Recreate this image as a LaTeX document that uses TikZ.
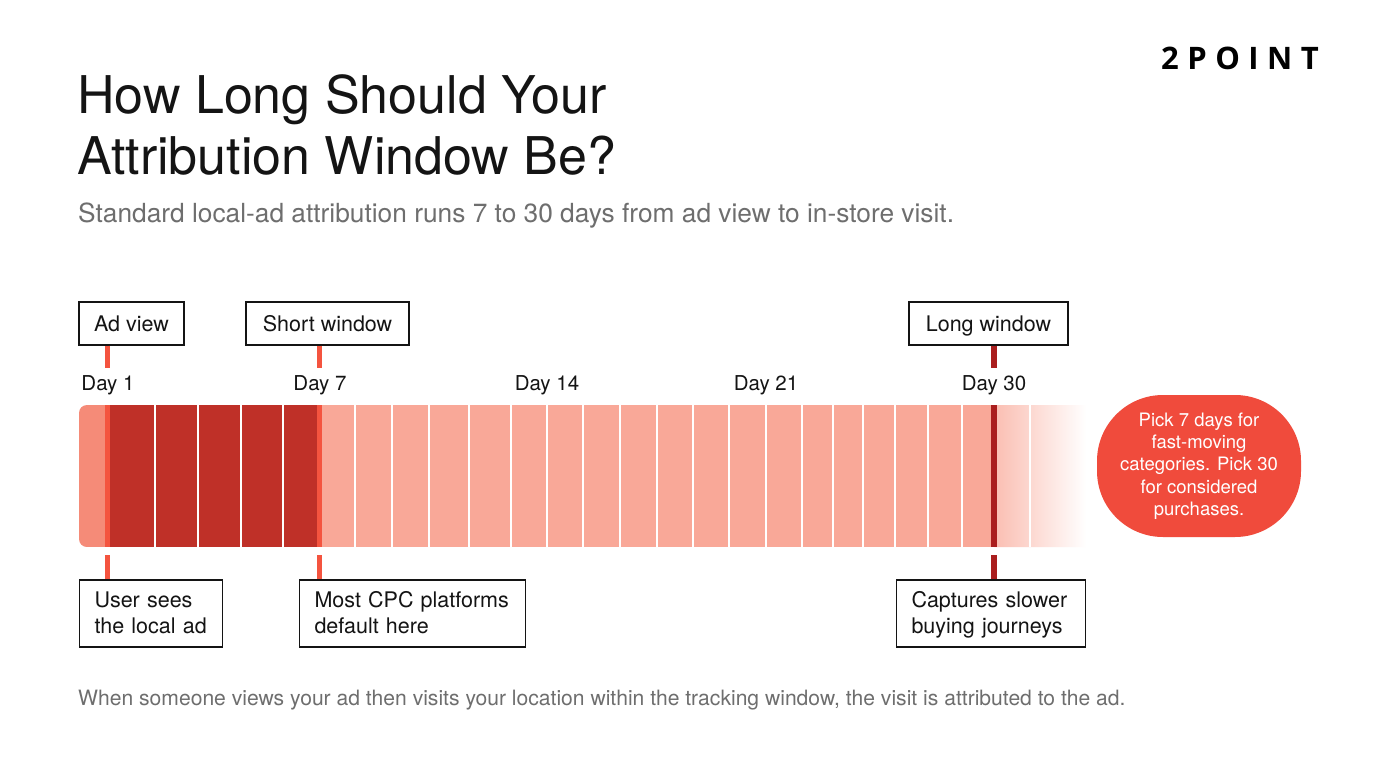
\documentclass[tikz,border=0pt]{standalone}
\usepackage{fontspec}
\setmainfont{TeX Gyre Heros}
\newfontfamily\logofont{Open Sans}
\usetikzlibrary{calc}
\newcommand\notestrut{\rule[-5.5pt]{0pt}{25pt}}
\definecolor{inkc}{HTML}{141414}
\definecolor{grayt}{HTML}{6E6E6E}
\definecolor{darkcell}{HTML}{BF3028}
\definecolor{lightcell}{HTML}{F9A898}
\definecolor{leftcell}{HTML}{F58B78}
\definecolor{brightred}{HTML}{F4543F}
\definecolor{deepred}{HTML}{AA1E1E}
\definecolor{calloutc}{HTML}{F04B3C}
\tikzset{
  labelbox/.style={draw=inkc, line width=1.2pt, fill=white, inner sep=0pt, text=inkc,
    font=\fontsize{21.5}{26}\selectfont},
  topbox/.style={labelbox, text height=19.5pt, text depth=4.5pt, minimum height=43pt},
  notebox/.style={labelbox, align=left, inner xsep=15pt, anchor=center, minimum height=67pt},
  daylbl/.style={text=inkc, font=\fontsize{20.5}{24}\selectfont, inner sep=0pt},
  divider/.style={white, line width=1.5pt},
  ticklight/.style={brightred, line width=5pt},
  tickdark/.style={deepred, line width=6pt},
}
\begin{document}
\begin{tikzpicture}[x=1pt,y=-1pt]
\useasboundingbox[fill=white] (0,0) rectangle (1376,768);

% logo
\node[anchor=center, inner sep=0pt, font=\logofont\bfseries\fontsize{31}{31}\selectfont, text=black] (logo) at (1240,58)
  {2\hspace{8.5pt}P\hspace{8.5pt}O\hspace{8.5pt}I\hspace{8.5pt}N\hspace{8.5pt}T};

% title
\node[anchor=north west, inner sep=0pt, align=left, text=inkc,
  font=\fontsize{52}{61}\selectfont] (title) at (77,74)
  {How Long Should Your\\Attribution Window Be?};
\node[anchor=west, inner sep=0pt, text=grayt, font=\fontsize{26.3}{30}\selectfont] (sub) at (78,216)
  {Standard local-ad attribution runs 7 to 30 days from ad view to in-store visit.};

% bar
\begin{scope}
  \clip[rounded corners=8pt] (79,405) rectangle (1100,547);
  \fill[leftcell] (79,405) rectangle (108,547);
  \fill[darkcell] (108,405) rectangle (319,547);
  \fill[lightcell] (319,405) rectangle (994,547);
  \shade[left color=lightcell!75!white, right color=white] (994,405) rectangle (1086,547);
  \fill[white] (1086,405) rectangle (1100,547);
\end{scope}
\foreach \xx in {155,198,241,283,355,392,429,469,511,547,583,620,657,693,729,766,802,833,863,895,928,962,1030}{
  \draw[divider] (\xx,405) -- (\xx,547);
}
\coordinate (d1t) at (107.5,405);
\coordinate (d1b) at (107.5,547);
\coordinate (d7t) at (319.5,405);
\coordinate (d7b) at (319.5,547);
\coordinate (d30t) at (994,405);
\coordinate (d30b) at (994,547);
\draw[ticklight] (d1t) -- (d1b);
\draw[ticklight] (d7t) -- (d7b);
\draw[tickdark] (d30t) -- (d30b);

% day labels
\node[daylbl] (day1) at (108,385) {Day 1};
\node[daylbl] (day7) at (320,385) {Day 7};
\node[daylbl] (day14) at (547,385) {Day 14};
\node[daylbl] (day21) at (766,385) {Day 21};
\node[daylbl] (day30) at (994,385) {Day 30};

% top boxes
\node[topbox, minimum width=105pt] (adview) at (131.5,323.5) {Ad view};
\node[topbox, minimum width=163pt] (short) at (327.5,323.5) {Short window};
\node[topbox, minimum width=159pt] (long) at (988.5,323.5) {Long window};

\coordinate (a1) at (107.5,368);
\coordinate (a7) at (319.5,368);
\coordinate (a30) at (994,368);
\draw[ticklight] (a1 |- adview.south) -- (a1);
\draw[ticklight] (a7 |- short.south) -- (a7);
\draw[tickdark] (a30 |- long.south) -- (a30);

% bottom boxes
\node[notebox, text width=113pt] (user) at (151,613.5) {\notestrut User sees\\\notestrut the local ad};
\node[notebox, text width=196pt] (cpc) at (412.5,613.5) {\notestrut Most CPC platforms\\\notestrut default here};
\node[notebox, text width=159pt] (capt) at (991,613.5) {\notestrut Captures slower\\\notestrut buying journeys};

\coordinate (b1) at (107.5,555);
\coordinate (b7) at (319.5,555);
\coordinate (b30) at (994,555);
\draw[ticklight] (b1) -- (b1 |- user.north);
\draw[ticklight] (b7) -- (b7 |- cpc.north);
\draw[tickdark] (b30) -- (b30 |- capt.north);

% callout
\node[fill=calloutc, rounded corners=66pt, minimum width=204pt, minimum height=142pt, inner sep=0pt,
  text=white, align=center, font=\fontsize{18.5}{22.3}\selectfont] (callout) at (1199,466)
  {Pick 7 days for\\fast-moving\\categories. Pick 30\\for considered\\purchases.};

% footer
\node[anchor=west, inner sep=0pt, text=grayt, font=\fontsize{21.1}{24}\selectfont] (foot) at (78,700)
  {When someone views your ad then visits your location within the tracking window, the visit is attributed to the ad.};
\end{tikzpicture}
\end{document}
